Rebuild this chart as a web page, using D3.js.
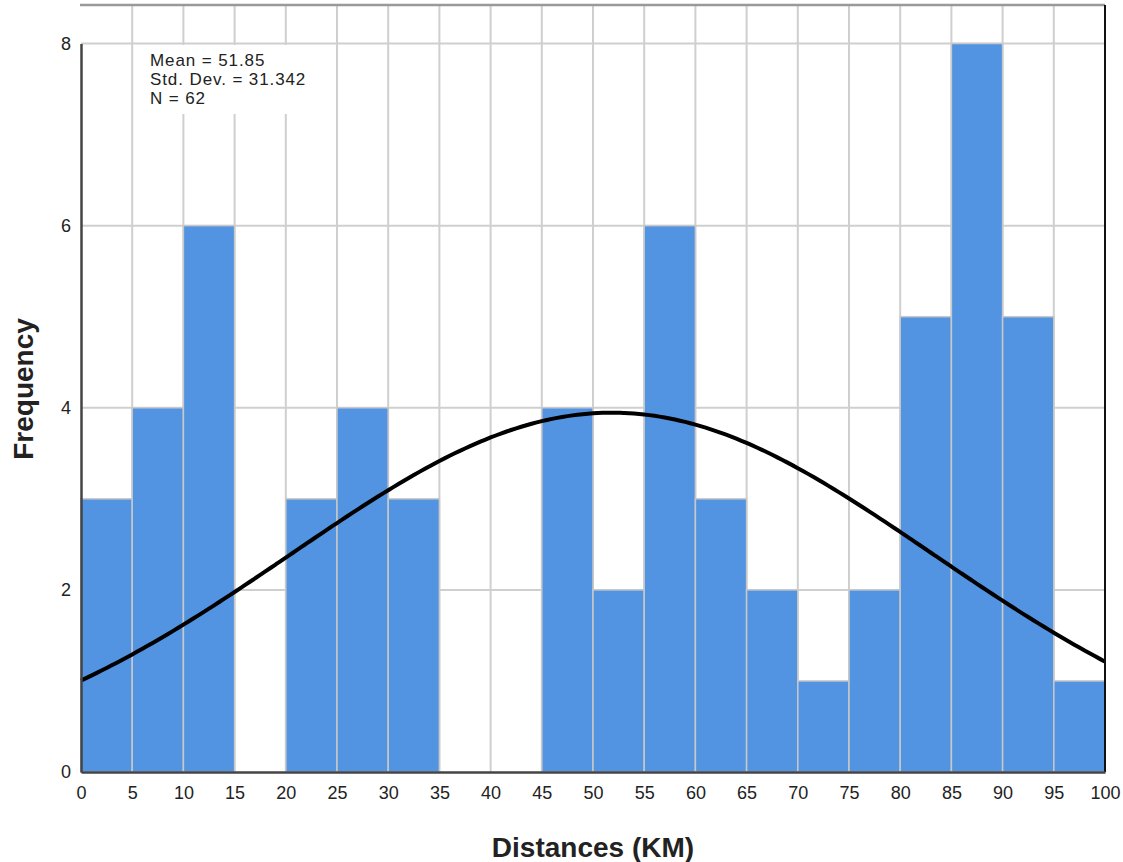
<!DOCTYPE html>
<html>
  <head>
    <meta charset="UTF-8" />
    <title>Distances histogram</title>
    <script src="https://d3js.org/d3.v7.min.js"></script>
    <style>
      body { margin: 0; background: #fff; }
      text { font-family: Arial, "Liberation Sans", sans-serif; fill: #222; }
      .grid line { stroke: #cfcfcf; stroke-width: 2px; }
      .bar { fill: #5294e2; stroke: #c8c8c8; stroke-width: 1.5px; }
    </style>
  </head>
  <body>
    <svg id="chart" width="1123" height="862"></svg>
    <script>
      // bin edges and counts (5 km bins)
      var binStarts = [0, 5, 10, 15, 20, 25, 30, 35, 40, 45, 50, 55, 60, 65, 70, 75, 80, 85, 90, 95];
      var counts = [3, 4, 6, 0, 3, 4, 3, 0, 0, 4, 2, 6, 3, 2, 1, 2, 5, 8, 5, 1];
      var binWidth = 5;
      var xTicks = d3.range(0, 101, 5);
      var yTicks = [0, 2, 4, 6, 8];
      var statLines = ['Mean = 51.85', 'Std. Dev. = 31.342', 'N = 62'];
      var mean = 51.85, sd = 31.342, n = 62;

      var svg = d3.select('#chart');
      // plot area edges (note: "top" is taken by window.top)
      var left = 81, right = 1105, plotTop = 5, bottom = 772;

      var x = d3.scaleLinear().domain([0, 100]).range([left, right]);
      var y = d3.scaleLinear().domain([0, 8]).range([bottom, 43.5]);

      // grid
      var grid = svg.append('g').attr('class', 'grid');
      grid.selectAll('.v').data(xTicks.slice(1, -1)).enter().append('line')
        .attr('x1', d => x(d)).attr('x2', d => x(d)).attr('y1', plotTop).attr('y2', bottom);
      grid.selectAll('.h').data(yTicks.slice(1)).enter().append('line')
        .attr('x1', left).attr('x2', right).attr('y1', d => y(d)).attr('y2', d => y(d));

      // bars
      svg.selectAll('.bar').data(counts).enter().append('rect')
        .attr('class', 'bar')
        .attr('x', (d, i) => x(binStarts[i]))
        .attr('width', (d, i) => x(binStarts[i] + binWidth) - x(binStarts[i]))
        .attr('y', d => y(d))
        .attr('height', d => y(0) - y(d))
        .style('display', d => d > 0 ? null : 'none');

      // fitted normal curve
      var curve = d3.range(0, 100.01, 0.5).map(function (v) {
        var z = (v - mean) / sd;
        return [v, n * binWidth * Math.exp(-0.5 * z * z) / (sd * Math.sqrt(2 * Math.PI))];
      });
      svg.append('path').datum(curve)
        .attr('fill', 'none').attr('stroke', '#000').attr('stroke-width', 4)
        .attr('d', d3.line().x(d => x(d[0])).y(d => y(d[1])).curve(d3.curveBasis));

      // stats box
      svg.append('rect').attr('x', 136).attr('y', 45).attr('width', 180).attr('height', 69).attr('fill', '#fff');
      svg.append('text').attr('x', 150).attr('y', 66).style('font-size', '17px').style('letter-spacing', '0.9px')
        .selectAll('tspan').data(statLines).enter().append('tspan')
        .attr('x', 150).attr('dy', (d, i) => i ? 19 : 0).text(d => d);

      // frame
      svg.append('line').attr('x1', left - 1).attr('x2', right).attr('y1', plotTop).attr('y2', plotTop).attr('stroke', '#999').attr('stroke-width', 2.5);
      svg.append('line').attr('x1', right).attr('x2', right).attr('y1', plotTop).attr('y2', bottom).attr('stroke', '#111').attr('stroke-width', 2);

      // axes
      var xAxis = svg.append('g').attr('transform', 'translate(0,' + bottom + ')')
        .call(d3.axisBottom(x).tickValues(xTicks).tickSize(0).tickPadding(14));
      var yAxis = svg.append('g').attr('transform', 'translate(' + left + ',0)')
        .call(d3.axisLeft(y).tickValues(yTicks).tickSize(0).tickPadding(10));
      [xAxis, yAxis].forEach(function (a) {
        a.select('.domain').attr('stroke', '#444').attr('stroke-width', 2.5);
        a.selectAll('text').style('font-size', '18px').style('font-family', 'Arial, "Liberation Sans", sans-serif').attr('fill', '#222');
      });

      // axis titles
      svg.append('text').attr('x', 593).attr('y', 857).attr('text-anchor', 'middle')
        .style('font-size', '28px').style('font-weight', 'bold').text('Distances (KM)');
      svg.append('text').attr('transform', 'translate(33,389) rotate(-90)').attr('text-anchor', 'middle')
        .style('font-size', '28px').style('font-weight', 'bold').text('Frequency');
    </script>
  </body>
</html>
